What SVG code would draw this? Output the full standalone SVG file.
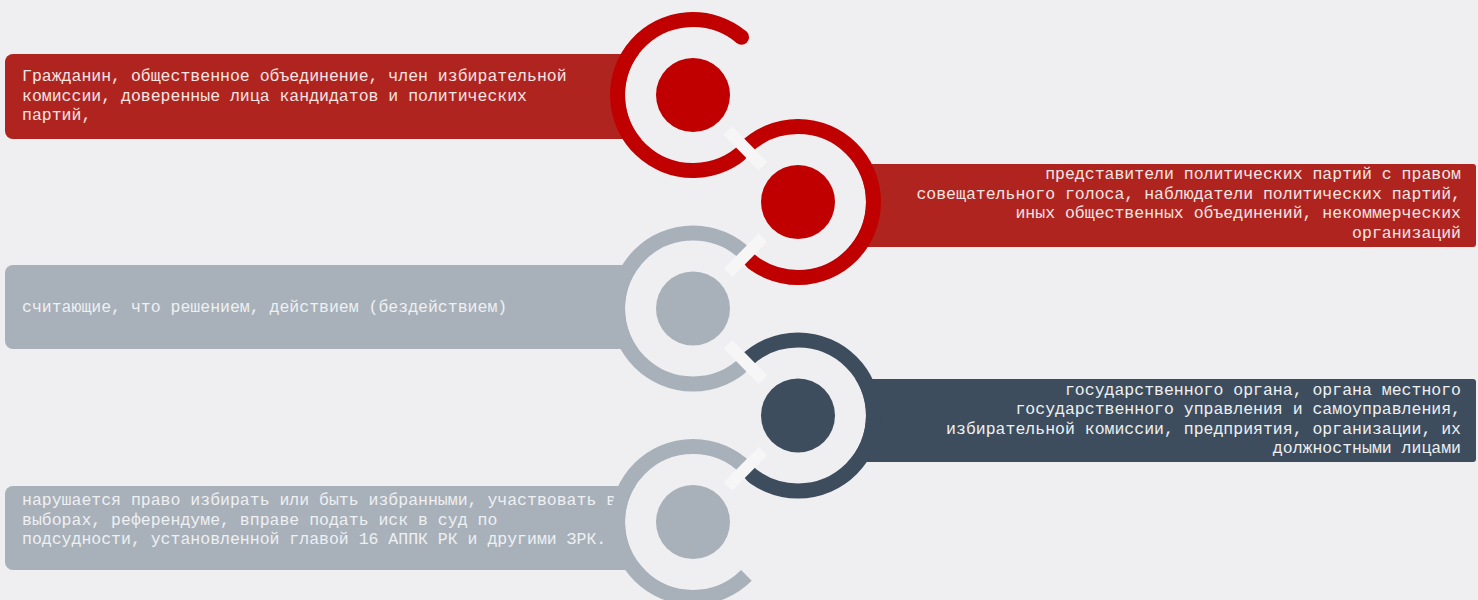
<svg xmlns="http://www.w3.org/2000/svg" width="1478" height="600" viewBox="0 0 1478 600">
<style>
.bg{fill:#efeff1}
.hole{fill:#efeff1}
.red-band{fill:#b0241f}
.red{fill:#c00000}
.red-ring{fill:none;stroke:#c00000;stroke-width:15}
.grey-band{fill:#a8b1ba}
.grey{fill:#a8b1ba}
.grey-ring{fill:none;stroke:#a8b1ba;stroke-width:15}
.dark-band{fill:#3d4d5d}
.dark{fill:#3d4d5d}
.dark-ring{fill:none;stroke:#3d4d5d;stroke-width:15}
.t{font-family:"Liberation Mono","Courier New",monospace;font-size:16.5px}
.tl{fill:#f3e6e5}
.tg{fill:#eef0f2}
.td{fill:#eef0f2}
.r{text-anchor:end}
.bar{stroke:#f6f6f7;stroke-width:12;fill:none}
</style>
<rect class="bg" x="0" y="0" width="1478" height="600"/>

<g id="node1">
<rect class="red-band" x="5" y="54" width="700" height="85" rx="8"/>
<circle class="hole" cx="693" cy="95" r="68"/>
<path class="red-ring" d="M746.39,148.39 A75.5,75.5 0 1 1 741.53,37.16"/>
<circle class="red" cx="741.53" cy="37.16" r="7.5"/>
<circle class="red" cx="693" cy="95" r="37"/>
<text class="t tl" x="22" y="81">Гражданин, общественное объединение, член избирательной</text>
<text class="t tl" x="22" y="100.5">комиссии, доверенные лица кандидатов и политических</text>
<text class="t tl" x="22" y="120">партий,</text>
</g>

<g id="node2">
<rect class="red-band" x="790" y="164" width="686" height="83" rx="3"/>
<circle class="hole" cx="798" cy="202" r="68"/>
<path class="red-ring" d="M744.61,148.61 A75.5,75.5 0 1 1 744.61,255.39"/>
<circle class="red" cx="798" cy="202" r="37"/>
<text class="t tl r" x="1461" y="179">представители политических партий с правом</text>
<text class="t tl r" x="1461" y="198.5">совещательного голоса, наблюдатели политических партий,</text>
<text class="t tl r" x="1461" y="218">иных общественных объединений, некоммерческих</text>
<text class="t tl r" x="1461" y="237.5">организаций</text>
</g>

<g id="node3">
<rect class="grey-band" x="5" y="265" width="700" height="84" rx="8"/>
<circle class="hole" cx="693" cy="308.5" r="68"/>
<path class="grey-ring" d="M746.39,361.89 A75.5,75.5 0 1 1 746.39,255.11"/>
<circle class="grey" cx="693" cy="308.5" r="37"/>
<text class="t tg" x="22" y="312">считающие, что решением, действием (бездействием)</text>
</g>

<g id="node4">
<rect class="dark-band" x="790" y="379" width="686" height="83" rx="3"/>
<circle class="hole" cx="798" cy="415.5" r="68"/>
<path class="dark-ring" d="M744.61,362.11 A75.5,75.5 0 1 1 744.61,468.89"/>
<circle class="dark" cx="798" cy="415.5" r="37"/>
<text class="t td r" x="1461" y="394.5">государственного органа, органа местного</text>
<text class="t td r" x="1461" y="414">государственного управления и самоуправления,</text>
<text class="t td r" x="1461" y="433.5">избирательной комиссии, предприятия, организации, их</text>
<text class="t td r" x="1461" y="453">должностными лицами</text>
</g>

<g id="node5">
<rect class="grey-band" x="5" y="486" width="700" height="84" rx="8"/>
<text class="t tg" x="22" y="505">нарушается право избирать или быть избранными, участвовать в</text>
<text class="t tg" x="22" y="524.5">выборах, референдуме, вправе подать иск в суд по</text>
<text class="t tg" x="22" y="544">подсудности, установленной главой 16 АППК РК и другими ЗРК.</text>
<circle class="hole" cx="693" cy="522" r="68"/>
<path class="grey-ring" d="M746.39,575.39 A75.5,75.5 0 1 1 746.39,468.61"/>
<circle class="grey" cx="693" cy="522" r="37"/>
</g>

<g id="connectors">
<line class="bar" x1="728.02" y1="130.69" x2="762.98" y2="166.31"/>
<line class="bar" x1="762.9" y1="237.6" x2="728.1" y2="272.9"/>
<line class="bar" x1="728.02" y1="344.19" x2="762.98" y2="379.81"/>
<line class="bar" x1="762.9" y1="451.1" x2="728.1" y2="486.4"/>
</g>
</svg>
